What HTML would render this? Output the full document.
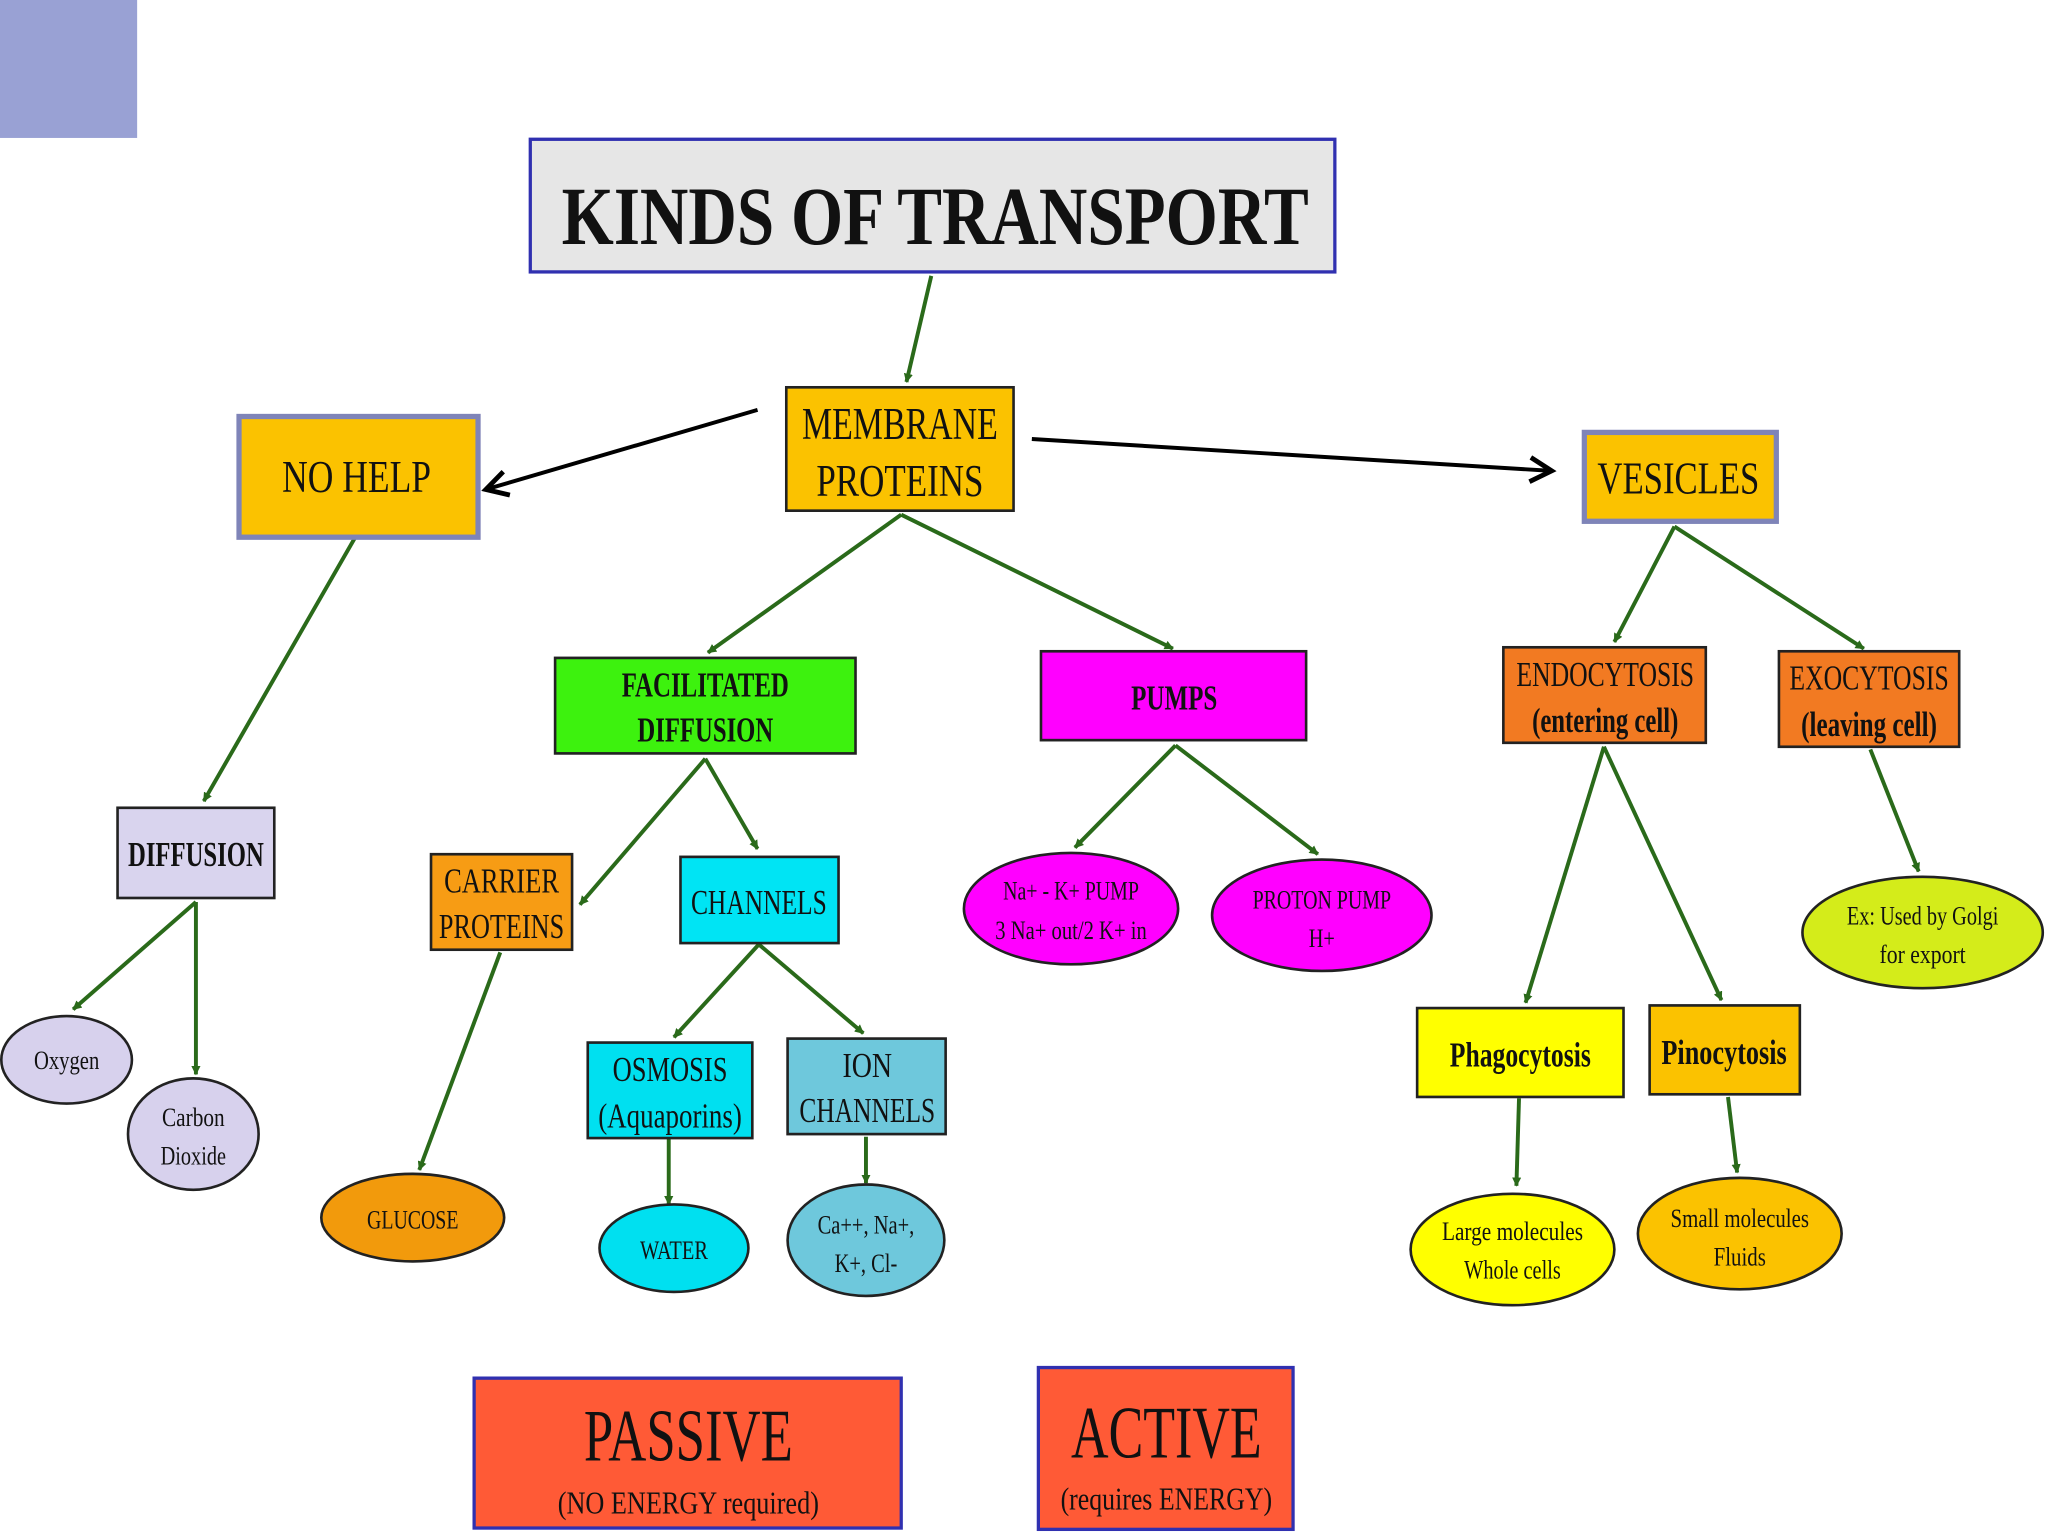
<!DOCTYPE html>
<html><head><meta charset="utf-8"><style>
html,body{margin:0;padding:0;background:#fff;}
svg{display:block;}
text{font-family:"Liberation Serif",serif;text-anchor:middle;fill:#111;}
</style></head><body>
<svg width="2048" height="1536" viewBox="0 0 1568 1158" preserveAspectRatio="none" xmlns="http://www.w3.org/2000/svg">
<defs>
<marker id="g" viewBox="0 0 10 10" refX="9" refY="5" markerWidth="7" markerHeight="7" orient="auto-start-reverse" markerUnits="userSpaceOnUse"><path d="M0,0 L10,5 L0,10 z" fill="#2a6a1a"/></marker>
<marker id="b" viewBox="0 0 12 12" refX="10" refY="6" markerWidth="22" markerHeight="22" orient="auto" markerUnits="userSpaceOnUse"><path d="M1,1 L10,6 L1,11" fill="none" stroke="#000" stroke-width="2"/></marker>
</defs>
<style>
.gl{stroke:#2a6a1a;stroke-width:3;fill:none;marker-end:url(#g);}
.bx{stroke:#222;stroke-width:2;}
.t{font-size:26px;}
</style>
<rect x="0" y="0" width="105" height="104" fill="#99a1d4"/>

<rect x="406" y="105" width="616" height="100" fill="#e6e6e6" stroke="#3030b0" stroke-width="2.5"/>
<text x="716" y="184" font-size="62" font-weight="bold" textLength="572" lengthAdjust="spacingAndGlyphs">KINDS OF TRANSPORT</text>

<!-- connectors -->
<line class="gl" x1="713" y1="208" x2="694" y2="288"/>
<line x1="580" y1="309" x2="372" y2="369" stroke="#000" stroke-width="3" marker-end="url(#b)"/>
<line x1="790" y1="331" x2="1188" y2="355" stroke="#000" stroke-width="3" marker-end="url(#b)"/>
<line class="gl" x1="690" y1="388" x2="542" y2="492"/>
<line class="gl" x1="690" y1="388" x2="898" y2="489"/>
<line class="gl" x1="272" y1="405" x2="156" y2="604"/>
<line class="gl" x1="150" y1="680" x2="56" y2="761"/>
<line class="gl" x1="150" y1="680" x2="150" y2="810"/>
<line class="gl" x1="540" y1="572" x2="444" y2="682"/>
<line class="gl" x1="540" y1="572" x2="580" y2="640"/>
<line class="gl" x1="383" y1="718" x2="321" y2="882"/>
<line class="gl" x1="581" y1="712" x2="516" y2="782"/>
<line class="gl" x1="581" y1="712" x2="661" y2="779"/>
<line class="gl" x1="512" y1="858" x2="512" y2="908"/>
<line class="gl" x1="663" y1="857" x2="663" y2="892"/>
<line class="gl" x1="900" y1="562" x2="823" y2="639"/>
<line class="gl" x1="900" y1="562" x2="1009" y2="644"/>
<line class="gl" x1="1282" y1="397" x2="1236" y2="484"/>
<line class="gl" x1="1282" y1="397" x2="1427" y2="489"/>
<line class="gl" x1="1432" y1="565" x2="1469" y2="657"/>
<line class="gl" x1="1228" y1="563" x2="1168" y2="756"/>
<line class="gl" x1="1228" y1="563" x2="1318" y2="754"/>
<line class="gl" x1="1163" y1="828" x2="1161" y2="894"/>
<line class="gl" x1="1323" y1="827" x2="1330" y2="884"/>

<!-- boxes -->
<rect x="602" y="292" width="174" height="93" fill="#fbc200" class="bx"/>
<text x="689" y="331" font-size="34" textLength="150" lengthAdjust="spacingAndGlyphs">MEMBRANE</text>
<text x="689" y="374" font-size="34" textLength="128" lengthAdjust="spacingAndGlyphs">PROTEINS</text>

<rect x="183" y="314" width="183" height="91" fill="#fbc200" stroke="#7f84b8" stroke-width="4"/>
<text x="273" y="371" font-size="34" textLength="114" lengthAdjust="spacingAndGlyphs">NO HELP</text>

<rect x="1213" y="326" width="147" height="67" fill="#fbc200" stroke="#7f84b8" stroke-width="4"/>
<text x="1285" y="372" font-size="34" textLength="124" lengthAdjust="spacingAndGlyphs">VESICLES</text>

<rect x="425" y="496" width="230" height="72" fill="#3df20e" class="bx"/>
<text x="540" y="525" class="t" font-weight="bold" textLength="128" lengthAdjust="spacingAndGlyphs">FACILITATED</text>
<text x="540" y="559" class="t" font-weight="bold" textLength="104" lengthAdjust="spacingAndGlyphs">DIFFUSION</text>

<rect x="797" y="491" width="203" height="67" fill="#ff00ff" class="bx"/>
<text x="899" y="535" class="t" font-weight="bold" textLength="66" lengthAdjust="spacingAndGlyphs">PUMPS</text>

<rect x="90" y="609" width="120" height="68" fill="#d9d4ee" class="bx"/>
<text x="150" y="653" class="t" font-weight="bold" textLength="104" lengthAdjust="spacingAndGlyphs">DIFFUSION</text>

<rect x="330" y="644" width="108" height="72" fill="#f79c14" class="bx"/>
<text x="384" y="673" class="t" textLength="88" lengthAdjust="spacingAndGlyphs">CARRIER</text>
<text x="384" y="707" class="t" textLength="96" lengthAdjust="spacingAndGlyphs">PROTEINS</text>

<rect x="521" y="646" width="121" height="65" fill="#00e4f4" class="bx"/>
<text x="581" y="689" class="t" textLength="104" lengthAdjust="spacingAndGlyphs">CHANNELS</text>

<rect x="450" y="786" width="126" height="72" fill="#00e0f0" class="bx"/>
<text x="513" y="815" class="t" textLength="88" lengthAdjust="spacingAndGlyphs">OSMOSIS</text>
<text x="513" y="850" class="t" textLength="110" lengthAdjust="spacingAndGlyphs">(Aquaporins)</text>

<rect x="603" y="783" width="121" height="72" fill="#6ec8dc" class="bx"/>
<text x="664" y="812" class="t" textLength="38" lengthAdjust="spacingAndGlyphs">ION</text>
<text x="664" y="846" class="t" textLength="104" lengthAdjust="spacingAndGlyphs">CHANNELS</text>

<rect x="1151" y="488" width="155" height="72" fill="#f27a22" class="bx"/>
<text x="1229" y="517" class="t" textLength="136" lengthAdjust="spacingAndGlyphs">ENDOCYTOSIS</text>
<text x="1229" y="552" class="t" font-weight="bold" textLength="112" lengthAdjust="spacingAndGlyphs">(entering cell)</text>

<rect x="1362" y="491" width="138" height="72" fill="#f27a22" class="bx"/>
<text x="1431" y="520" class="t" textLength="122" lengthAdjust="spacingAndGlyphs">EXOCYTOSIS</text>
<text x="1431" y="555" class="t" font-weight="bold" textLength="104" lengthAdjust="spacingAndGlyphs">(leaving cell)</text>

<rect x="1085" y="760" width="158" height="67" fill="#ffff00" class="bx"/>
<text x="1164" y="804" class="t" font-weight="bold" textLength="108" lengthAdjust="spacingAndGlyphs">Phagocytosis</text>
<rect x="1263" y="758" width="115" height="67" fill="#fbc200" class="bx"/>
<text x="1320" y="802" class="t" font-weight="bold" textLength="96" lengthAdjust="spacingAndGlyphs">Pinocytosis</text>

<!-- ellipses -->
<g stroke="#222" stroke-width="2">
<ellipse cx="51" cy="799" rx="50" ry="33" fill="#d7d1ed"/>
<ellipse cx="148" cy="855" rx="50" ry="42" fill="#d7d1ed"/>
<ellipse cx="316" cy="918" rx="70" ry="33" fill="#f29a0c"/>
<ellipse cx="516" cy="941" rx="57" ry="33" fill="#00e0f0"/>
<ellipse cx="663" cy="935" rx="60" ry="42" fill="#6ec8dc"/>
<ellipse cx="820" cy="685" rx="82" ry="42" fill="#ff00ff"/>
<ellipse cx="1012" cy="690" rx="84" ry="42" fill="#ff00ff"/>
<ellipse cx="1472" cy="703" rx="92" ry="42" fill="#d4ec1a"/>
<ellipse cx="1158" cy="942" rx="78" ry="42" fill="#ffff00"/>
<ellipse cx="1332" cy="930" rx="78" ry="42" fill="#fbc200"/>
</g>
<g font-size="20">
<text x="51" y="806" textLength="50" lengthAdjust="spacingAndGlyphs">Oxygen</text>
<text x="148" y="849" textLength="48" lengthAdjust="spacingAndGlyphs">Carbon</text>
<text x="148" y="878" textLength="50" lengthAdjust="spacingAndGlyphs">Dioxide</text>
<text x="316" y="926" textLength="70" lengthAdjust="spacingAndGlyphs">GLUCOSE</text>
<text x="516" y="949" textLength="52" lengthAdjust="spacingAndGlyphs">WATER</text>
<text x="663" y="930" textLength="74" lengthAdjust="spacingAndGlyphs">Ca++, Na+,</text>
<text x="663" y="959" textLength="48" lengthAdjust="spacingAndGlyphs">K+, Cl-</text>
<text x="820" y="678" textLength="104" lengthAdjust="spacingAndGlyphs">Na+ - K+ PUMP</text>
<text x="820" y="708" textLength="116" lengthAdjust="spacingAndGlyphs">3 Na+ out/2 K+ in</text>
<text x="1012" y="685" textLength="106" lengthAdjust="spacingAndGlyphs">PROTON PUMP</text>
<text x="1012" y="714" textLength="20" lengthAdjust="spacingAndGlyphs">H+</text>
<text x="1472" y="697" textLength="116" lengthAdjust="spacingAndGlyphs">Ex: Used by Golgi</text>
<text x="1472" y="726" textLength="66" lengthAdjust="spacingAndGlyphs">for export</text>
<text x="1158" y="935" textLength="108" lengthAdjust="spacingAndGlyphs">Large molecules</text>
<text x="1158" y="964" textLength="74" lengthAdjust="spacingAndGlyphs">Whole cells</text>
<text x="1332" y="925" textLength="106" lengthAdjust="spacingAndGlyphs">Small molecules</text>
<text x="1332" y="954" textLength="40" lengthAdjust="spacingAndGlyphs">Fluids</text>
</g>

<rect x="363" y="1039" width="327" height="113" fill="#ff5a36" stroke="#3030b0" stroke-width="2.5"/>
<text x="527" y="1101" font-size="56" textLength="160" lengthAdjust="spacingAndGlyphs">PASSIVE</text>
<text x="527" y="1141" font-size="24" textLength="200" lengthAdjust="spacingAndGlyphs">(NO ENERGY required)</text>
<rect x="795" y="1031" width="195" height="122" fill="#ff5a36" stroke="#3030b0" stroke-width="2.5"/>
<text x="893" y="1099" font-size="56" textLength="146" lengthAdjust="spacingAndGlyphs">ACTIVE</text>
<text x="893" y="1138" font-size="24" textLength="162" lengthAdjust="spacingAndGlyphs">(requires ENERGY)</text>
</svg>
</body></html>
